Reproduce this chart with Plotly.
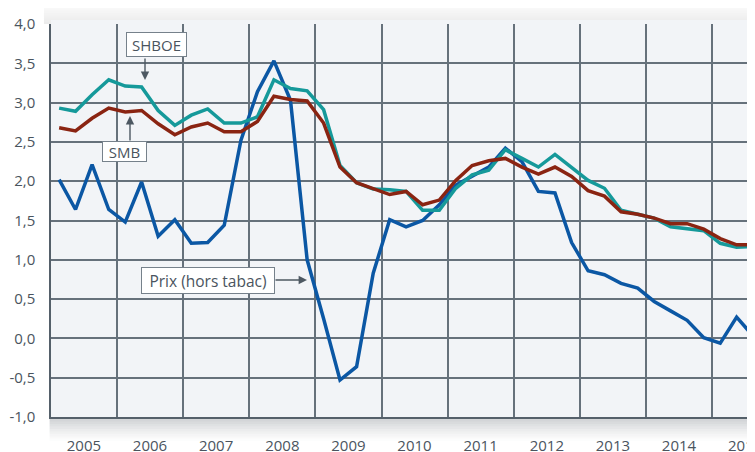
import pandas as pd
import plotly.graph_objects as go

quarters = pd.period_range("2005Q1", "2015Q3", freq="Q")
years = list(range(2005, 2016))

prix = [2.02, 1.64, 2.21, 1.64, 1.48, 1.99, 1.30, 1.51, 1.21, 1.22, 1.44, 2.52,
        3.14, 3.53, 3.03, 1.00, 0.25, -0.53, -0.36, 0.83, 1.51, 1.42, 1.50, 1.70,
        1.95, 2.06, 2.18, 2.42, 2.25, 1.87, 1.85, 1.22, 0.86, 0.81, 0.70, 0.64,
        0.47, 0.35, 0.23, 0.01, -0.06, 0.27, 0.03]
shboe = [2.93, 2.89, 3.10, 3.29, 3.21, 3.20, 2.90, 2.71, 2.84, 2.92, 2.74, 2.74,
         2.82, 3.29, 3.18, 3.15, 2.91, 2.20, 1.98, 1.90, 1.89, 1.87, 1.63, 1.63,
         1.91, 2.08, 2.14, 2.40, 2.29, 2.18, 2.34, 2.18, 2.01, 1.91, 1.63, 1.58,
         1.53, 1.42, 1.39, 1.37, 1.21, 1.16, 1.17]
smb = [2.68, 2.64, 2.80, 2.93, 2.88, 2.90, 2.73, 2.59, 2.69, 2.74, 2.63, 2.63,
       2.76, 3.08, 3.04, 3.02, 2.74, 2.18, 1.98, 1.90, 1.83, 1.87, 1.70, 1.76,
       2.01, 2.20, 2.26, 2.29, 2.18, 2.09, 2.18, 2.06, 1.88, 1.81, 1.61, 1.58,
       1.53, 1.46, 1.46, 1.39, 1.27, 1.19, 1.19]

y_ticks = [-1.0, -0.5, 0.0, 0.5, 1.0, 1.5, 2.0, 2.5, 3.0, 3.5, 4.0]
y_labels = [f"{v:.1f}".replace(".", ",") for v in y_ticks]

x_mid = [p.start_time + (p.end_time - p.start_time) / 2 for p in quarters]
year_start = [pd.Timestamp(f"{y}-01-01") for y in years]
year_mid = [pd.Timestamp(f"{y}-07-02") for y in years]
year_text = [str(y) for y in years]

TEXT = "#4a545e"
GRID = "#66717b"
FONT = "Open Sans"

fig = go.Figure()
fig.add_trace(go.Scatter(x=x_mid, y=prix, mode="lines", name="Prix (hors tabac)",
                         line=dict(color="#0b57a4", width=3.5)))
fig.add_trace(go.Scatter(x=x_mid, y=shboe, mode="lines", name="SHBOE",
                         line=dict(color="#15999a", width=3.5)))
fig.add_trace(go.Scatter(x=x_mid, y=smb, mode="lines", name="SMB",
                         line=dict(color="#8a2412", width=3.5)))

PH = 393.0  # plot height in px
shapes = []
n = 10
for i in range(n):
    y0 = 1 + (i * 2.2) / PH
    y1 = 1 + ((i + 1) * 2.2) / PH
    op = 0.16 * (1 - i / n)
    shapes.append(dict(type="rect", xref="paper", yref="paper", x0=-0.01, x1=1.0,
                       y0=y0, y1=y1, fillcolor="#808080", opacity=op,
                       line=dict(width=0), layer="below"))
for i in range(n):
    y1 = -(i * 2.4) / PH
    y0 = -((i + 1) * 2.4) / PH
    op = 0.38 * (1 - i / n) ** 1.3
    shapes.append(dict(type="rect", xref="paper", yref="paper", x0=-0.002, x1=1.0,
                       y0=y0, y1=y1, fillcolor="#7a8088", opacity=op,
                       line=dict(width=0), layer="below"))
shapes.append(dict(type="rect", xref="paper", yref="paper", x0=0, x1=1, y0=1,
                   y1=1 + 4 / PH, fillcolor="#f2f4f7", line=dict(width=0), layer="below"))


def px2paper(px, py):
    return (px - 51) / 704, (417 - py) / PH


annotations = []
box = dict(showarrow=False, bgcolor="white", bordercolor="#76818b", borderwidth=1,
           borderpad=1, xref="paper", yref="paper", xanchor="center",
           yanchor="middle", align="center")
for text, (cx, cy), (w, h), fs in [("SHBOE", (156.3, 45), (57, 21), 15),
                                   ("SMB", (124.3, 151.7), (41, 17), 15),
                                   ("Prix (hors tabac)", (208, 280), (130, 23), 15.5)]:
    x, y = px2paper(cx, cy)
    annotations.append(dict(box, text=text, x=x, y=y, width=w, height=h,
                            font=dict(family=FONT, size=fs, color=TEXT)))

arrow = dict(text="", showarrow=True, arrowhead=2, arrowsize=1.2, arrowwidth=1.4,
             arrowcolor="#4d5862", xref="paper", yref="paper")
for (tx, ty), (dx, dy) in [((145, 80), (0, -23)), ((130, 116), (0, 26)),
                           ((307, 280), (-33, 0))]:
    x, y = px2paper(tx, ty)
    annotations.append(dict(arrow, x=x, y=y, ax=dx, ay=dy))

fig.update_layout(
    width=747, height=444,
    margin=dict(l=43, r=0, t=16, b=35),
    paper_bgcolor="white", plot_bgcolor="#f2f4f7",
    showlegend=False,
    font=dict(family=FONT, size=15, color=TEXT),
    shapes=shapes, annotations=annotations,
    xaxis=dict(type="date", range=["2005-01-01", "2015-08-26"], automargin=False,
               tickmode="array", tickvals=year_mid, ticktext=year_text,
               ticklabeloverflow="allow", showgrid=False,
               minor=dict(tickmode="array", tickvals=year_start, showgrid=True,
                          gridcolor=GRID, gridwidth=1.5, ticks=""),
               showline=True, linecolor="#55606a", linewidth=1.5, zeroline=False,
               ticks="", ticklabelstandoff=14,
               tickfont=dict(family=FONT, size=15, color=TEXT)),
    yaxis=dict(range=[-1, 4], automargin=False, tickmode="array", tickvals=y_ticks,
               ticktext=y_labels, ticklabeloverflow="allow", showgrid=False,
               minor=dict(tickmode="array", tickvals=y_ticks[1:-1], showgrid=True,
                          gridcolor=GRID, gridwidth=1.5, ticks=""),
               showline=True, linecolor="#55606a", linewidth=1.5,
               zeroline=False, ticks="", ticklabelstandoff=11,
               tickfont=dict(family=FONT, size=15, color=TEXT)),
)

fig.write_html("out.html")
